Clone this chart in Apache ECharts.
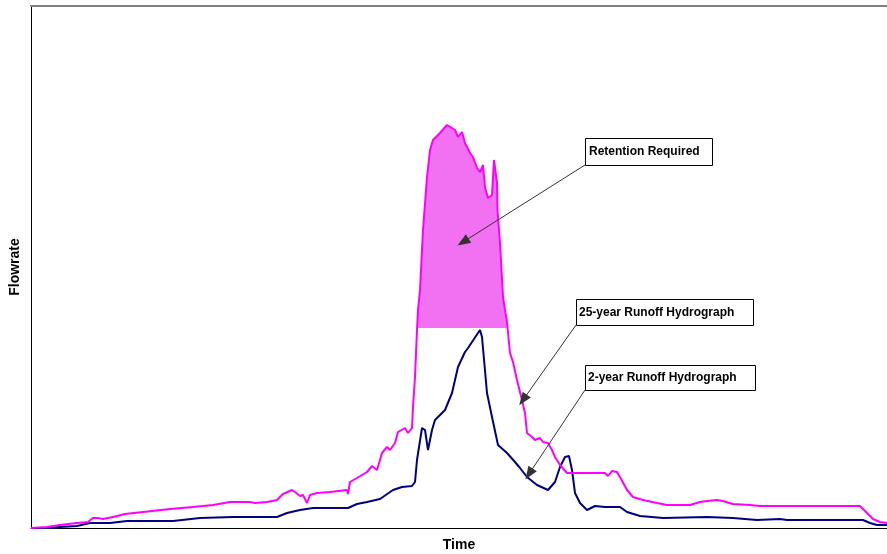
<!DOCTYPE html>
<html><head><meta charset="utf-8">
<script src="https://cdn.jsdelivr.net/npm/echarts@6/dist/echarts.min.js"></script>
<style>html,body{margin:0;padding:0;background:#fff}#c{width:887px;height:554px}</style>
</head><body><div id="c"></div>
<script>
// 25-year runoff hydrograph (time units, flow units)
var time25 = [0,16,29,46,57,62,67,72,82,94,112,139,162,182,199,219,224,236,246,252,261,264,269,272,276,279,286,299,316,317,319,326,336,341,346,351,356,359,364,367,374,377,381,382,384,386,387,389,392,396,399,402,409,416,418,421,424,427,431,434,439,442,446,449,452,454,457,461,463,465,466,466.5,469,472,474,476,479,482,486,491,494,496,501,504,509,512,517,521,524,529,536,544,556,574,577,581,586,589,596,602,612,626,636,659,669,676,686,692,702,719,729,752,829,836,842,849,856];
var flow25 = [0,1,3,5,6,10,10,9,11,14,16,19,21,23,26,26,25,26,28,34,38,36,32,33,25,33,35,36,38,34,46,50,56,62,58,75,81,78,85,96,100,95,100,121,151,198,218,238,298,351,378,388,395,403,405,400,398,391,396,385,375,371,360,356,363,341,330,333,368,370,345,318,285,231,218,206,175,166,148,128,115,95,91,88,90,86,85,78,71,63,55,55,55,55,52,57,56,51,38,31,28,25,23,23,26,27,28,27,24,23,22,22,22,15,9,6,5];
// 2-year runoff hydrograph
var time2 = [0,19,29,46,59,79,96,142,169,202,226,246,256,269,282,317,326,336,349,362,371,381,384,386,391,394,397,401,404,409,414,421,427,434,437,449,451,456,461,467,476,484,489,496,506,517,524,529,534,538,541,544,549,556,564,574,589,596,609,632,676,702,726,749,756,832,839,846,856];
var flow2 = [0,0,1,2,5,5,7,7,10,11,11,11,15,18,20,20,24,26,29,38,41,42,46,68,100,98,78,98,108,113,118,135,161,176,180,198,191,135,111,83,75,66,60,51,43,38,46,61,71,72,58,35,25,18,22,21,21,16,12,10,11,10,8,9,8,8,5,3,3];
// retention: area of the 25-year hydrograph above this flow
var retentionLevel = 200;
var retentionStart = 386, retentionEnd = 476.6;

var labels = ["Retention Required", "25-year Runoff Hydrograph", "2-year Runoff Hydrograph"];

function pairs(t, f){ return t.map(function(x,i){ return [x, f[i]]; }); }
var d25 = pairs(time25, flow25), d2 = pairs(time2, flow2);
var ret = [[retentionStart, retentionLevel]];
d25.forEach(function(p){ if (p[0] > retentionStart && p[0] < retentionEnd && p[1] >= retentionLevel) ret.push(p); });
ret.push([retentionEnd, retentionLevel]);

var chart = echarts.init(document.getElementById('c'), null, {renderer:'canvas'});
var font = 'Liberation Sans, Arial, sans-serif';
var arrowLine = {color:'#333', width:1, type:'solid'};
function arrow(a, b){ return [{coord:a},{coord:b}]; }
chart.setOption({
  animation:false,
  backgroundColor:'#fff',
  grid:{left:31, right:0, top:6, bottom:26, containLabel:false, outerBoundsMode:'none'},
  xAxis:[{type:'value', min:0, max:856, axisLine:{show:true, onZero:false, lineStyle:{color:'#000', width:1}},
    axisTick:{show:false}, axisLabel:{show:false}, splitLine:{show:false},
    name:'Time', nameLocation:'middle', nameGap:10,
    nameTextStyle:{fontFamily:font, fontWeight:'bold', fontSize:14, color:'#000', verticalAlign:'top'}},
    {type:'value', position:'top', min:0, max:856, axisLine:{show:true, onZero:false, lineStyle:{color:'#808080', width:2}},
    axisTick:{show:false}, axisLabel:{show:false}, splitLine:{show:false}}],
  yAxis:{type:'value', min:0, max:522, axisLine:{show:true, onZero:false, lineStyle:{color:'#000', width:1}},
    axisTick:{show:false}, axisLabel:{show:false}, splitLine:{show:false},
    name:'Flowrate', nameLocation:'middle', nameGap:9, nameRotate:90,
    nameTextStyle:{fontFamily:font, fontWeight:'bold', fontSize:14, color:'#000'}},
  series:[
    {type:'line', data:ret, symbol:'none', lineStyle:{width:0}, areaStyle:{color:'#f270f2', opacity:1, origin:retentionLevel}, z:1, silent:true},
    {type:'line', data:d25, symbol:'none', lineStyle:{color:'#ff00ff', width:2}, z:3,
      markLine:{silent:true, symbol:['none','triangle'], symbolSize:[10,13], label:{show:false},
        lineStyle:arrowLine, itemStyle:{color:'#000'},
        data:[arrow([554,363],[432,286]), arrow([545,203],[492,128]), arrow([554,138],[498,54])]}},
    {type:'line', data:d2, symbol:'none', lineStyle:{color:'#000080', width:2}, z:2}
  ],
  graphic:[
    {type:'group', left:585, top:138, children:[
      {type:'rect', shape:{x:0.5,y:0.5,width:127,height:27}, style:{fill:'#fff', stroke:'#000', lineWidth:1}},
      {type:'text', x:4, y:14, style:{text:labels[0], font:'bold 12px '+font, fill:'#000', textVerticalAlign:'middle'}}]},
    {type:'group', left:576, top:299, children:[
      {type:'rect', shape:{x:0.5,y:0.5,width:177,height:26}, style:{fill:'#fff', stroke:'#000', lineWidth:1}},
      {type:'text', x:3, y:14, style:{text:labels[1], font:'bold 12px '+font, fill:'#000', textVerticalAlign:'middle'}}]},
    {type:'group', left:585, top:365, children:[
      {type:'rect', shape:{x:0.5,y:0.5,width:170,height:25}, style:{fill:'#fff', stroke:'#000', lineWidth:1}},
      {type:'text', x:3, y:13, style:{text:labels[2], font:'bold 12px '+font, fill:'#000', textVerticalAlign:'middle'}}]}
  ]
});
</script></body></html>
